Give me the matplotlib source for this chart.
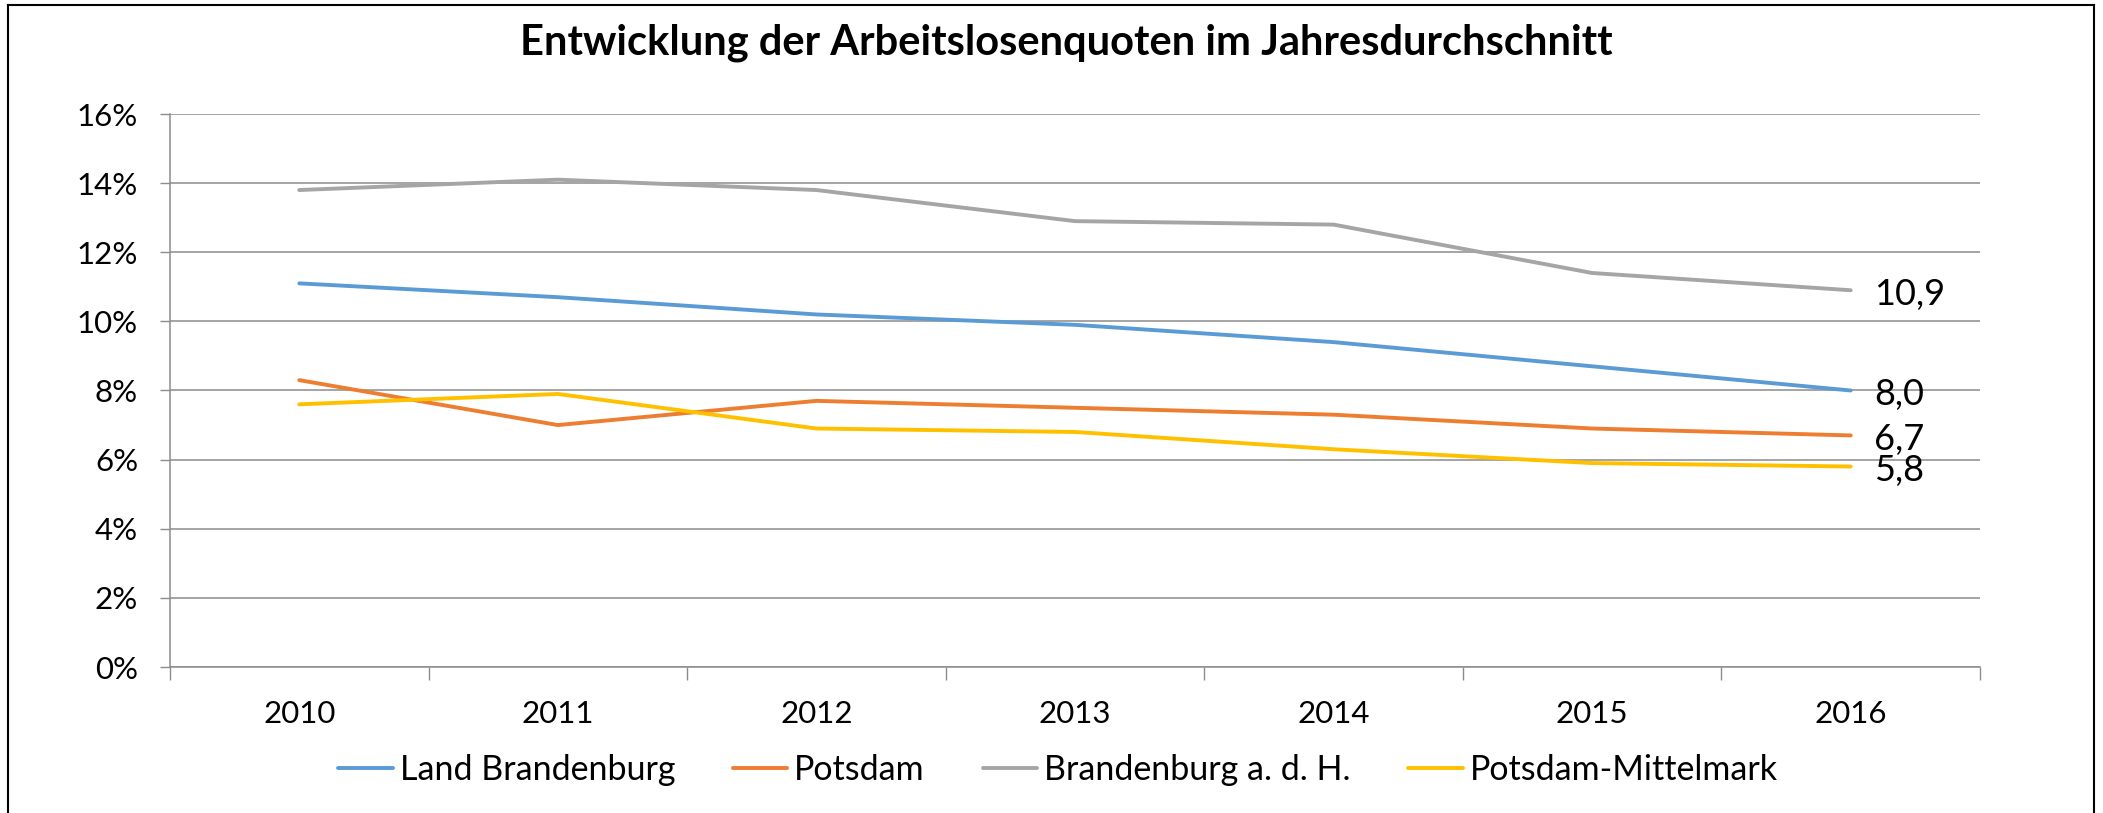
import matplotlib.pyplot as plt
from matplotlib.lines import Line2D
from matplotlib.ticker import FuncFormatter, FixedLocator

# Data (Arbeitslosenquote in %)
years = ['2010', '2011', '2012', '2013', '2014', '2015', '2016']
land_brandenburg = [11.1, 10.7, 10.2, 9.9, 9.4, 8.7, 8.0]
potsdam = [8.3, 7.0, 7.7, 7.5, 7.3, 6.9, 6.7]
brandenburg_adh = [13.8, 14.1, 13.8, 12.9, 12.8, 11.4, 10.9]
potsdam_mittelmark = [7.6, 7.9, 6.9, 6.8, 6.3, 5.9, 5.8]

series = [
    ('Land Brandenburg', land_brandenburg, '#5B9BD5'),
    ('Potsdam', potsdam, '#ED7D31'),
    ('Brandenburg a. d. H.', brandenburg_adh, '#A5A5A5'),
    ('Potsdam-Mittelmark', potsdam_mittelmark, '#FFC000'),
]
# end labels (drawn last-point values)
label_series = [brandenburg_adh, land_brandenburg, potsdam, potsdam_mittelmark]

plt.rcParams['font.family'] = ['Lato', 'DejaVu Sans']

W, H = 2103, 813
fig = plt.figure(figsize=(W / 100, H / 100), dpi=100)
ax = fig.add_axes([170 / W, 1 - 667 / H, (1980 - 170) / W, (667 - 114) / H])

x = list(range(len(years)))
for name, vals, col in series:
    ax.plot(x, vals, color=col, lw=2.8, label=name, solid_capstyle='round', zorder=3)

for vals in label_series:
    ax.annotate(f"{vals[-1]:.1f}".replace('.', ','), (x[-1], vals[-1]),
                xytext=(17, -3), textcoords='offset points',
                ha='left', va='center', fontsize=26, color='black')

ax.set_xlim(-0.5, len(years) - 0.5)
ax.set_ylim(0, 16)
ax.set_yticks(range(0, 17, 2))
ax.yaxis.set_major_formatter(FuncFormatter(lambda v, p: f"{int(v)}%"))
ax.grid(axis='y', color='#8C8C8C', lw=1.1)
ax.set_axisbelow(True)

ax.set_xticks(x)
ax.set_xticklabels(years)
ax.xaxis.set_minor_locator(FixedLocator([i - 0.5 for i in range(len(years) + 1)]))
ax.tick_params(axis='x', which='major', length=0, pad=24, labelsize=22.5)
ax.tick_params(axis='x', which='minor', length=9, width=1, color='#8C8C8C')
ax.tick_params(axis='y', length=7, width=1, color='#8C8C8C', pad=16, labelsize=22.5)

for s in ['top', 'right']:
    ax.spines[s].set_visible(False)
for s in ['left', 'bottom']:
    ax.spines[s].set_color('#8C8C8C')
    ax.spines[s].set_linewidth(1.1)

fig.text(1066 / W, 1 - 43 / H, 'Entwicklung der Arbeitslosenquoten im Jahresdurchschnitt',
         ha='center', va='center', fontsize=30, fontweight='bold')

fig.legend(loc='center', bbox_to_anchor=(1058 / W, 1 - 770 / H), ncol=4, frameon=False,
           fontsize=24.5, handlelength=1.6, handletextpad=0.2, columnspacing=1.7)

# outer frame (bottom edge is cut off in the original)
for xs, ys in [([8 / W, 8 / W], [0, 1 - 5 / H]),
               ([8 / W, 2094 / W], [1 - 5 / H, 1 - 5 / H]),
               ([2094 / W, 2094 / W], [1 - 5 / H, 0])]:
    fig.add_artist(Line2D(xs, ys, color='black', lw=1.5, transform=fig.transFigure))

fig.savefig('out.png', dpi=100)
